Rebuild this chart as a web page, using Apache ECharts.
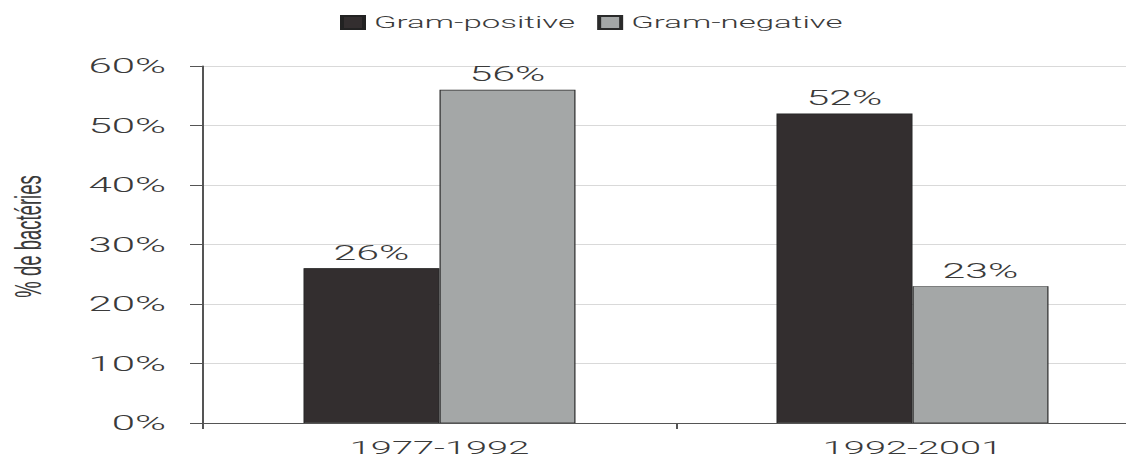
<!DOCTYPE html>
<html>
<head>
<meta charset="utf-8">
<script src="https://cdn.jsdelivr.net/npm/echarts@6/dist/echarts.min.js"></script>
<style>
  html, body { margin: 0; padding: 0; background: #ffffff; overflow: hidden; }
  #wrap { width: 1126px; height: 459px; overflow: hidden; }
  /* chart is laid out at half width and stretched to full width */
  #chart { width: 563px; height: 459px; transform: scaleX(2); transform-origin: 0 0; }
</style>
</head>
<body>
<div id="wrap"><div id="chart"></div></div>
<script>
const periods = ['1977-1992', '1992-2001'];
const seriesNames = ['Gram-positive', 'Gram-negative'];
const gramPositive = [26, 52];
const gramNegative = [56, 23];
const yTicks = [0, 10, 20, 30, 40, 50, 60];
const yAxisTitle = '% de bactéries';

const font = 'Roboto, "Liberation Sans", Arial, sans-serif';
const textColor = '#3a3a3a';

const chart = echarts.init(document.getElementById('chart'), null, {
  renderer: 'svg', width: 563, height: 459
});

const barLabel = {
  show: true,
  position: 'top',
  distance: 5,
  formatter: '{c}%',
  color: textColor,
  fontFamily: font,
  fontWeight: 300,
  fontSize: 20.5
};

chart.setOption({
  backgroundColor: '#ffffff',
  animation: false,
  legend: {
    data: seriesNames,
    left: 165,
    top: 9,
    itemWidth: 11,
    itemHeight: 13,
    itemGap: 11,
    icon: 'rect',
    textStyle: { color: textColor, fontFamily: font, fontWeight: 300, fontSize: 16.5 }
  },
  grid: { left: 101.5, top: 66, width: 473, height: 357, outerBoundsMode: 'none' },
  xAxis: {
    type: 'category',
    data: periods,
    axisLine: { lineStyle: { color: '#555555', width: 1 } },
    axisTick: { show: true, length: 6, lineStyle: { color: '#555555' } },
    axisLabel: {
      color: textColor, fontFamily: font, fontWeight: 300, fontSize: 19,
      lineHeight: 16, margin: 16
    }
  },
  yAxis: {
    type: 'value',
    min: yTicks[0],
    max: yTicks[yTicks.length - 1],
    interval: 10,
    name: yAxisTitle,
    nameLocation: 'middle',
    nameGap: 78,
    nameRotate: 90,
    nameTextStyle: { color: textColor, fontFamily: '"Liberation Sans", Arial, sans-serif', fontSize: 18.5, padding: [0, 0, 0, 16] },
    axisLine: { show: true, lineStyle: { color: '#555555', width: 1 } },
    axisTick: { show: true, length: 6.5, lineStyle: { color: '#555555' } },
    axisLabel: { formatter: '{value}%', color: textColor, fontFamily: font, fontWeight: 300, fontSize: 21, margin: 18.5 },
    splitLine: { show: true, lineStyle: { color: '#d9d9d9', width: 1 } }
  },
  series: [
    {
      name: seriesNames[0],
      type: 'bar',
      data: gramPositive,
      barWidth: 68,
      barGap: '0%',
      itemStyle: { color: '#332e2f', borderColor: '#222222', borderWidth: 0.6 },
      label: barLabel
    },
    {
      name: seriesNames[1],
      type: 'bar',
      data: gramNegative,
      barWidth: 68,
      barGap: '0%',
      itemStyle: { color: '#a4a7a7', borderColor: '#2a2a2a', borderWidth: 0.6 },
      label: barLabel
    }
  ]
});
</script>
</body>
</html>
